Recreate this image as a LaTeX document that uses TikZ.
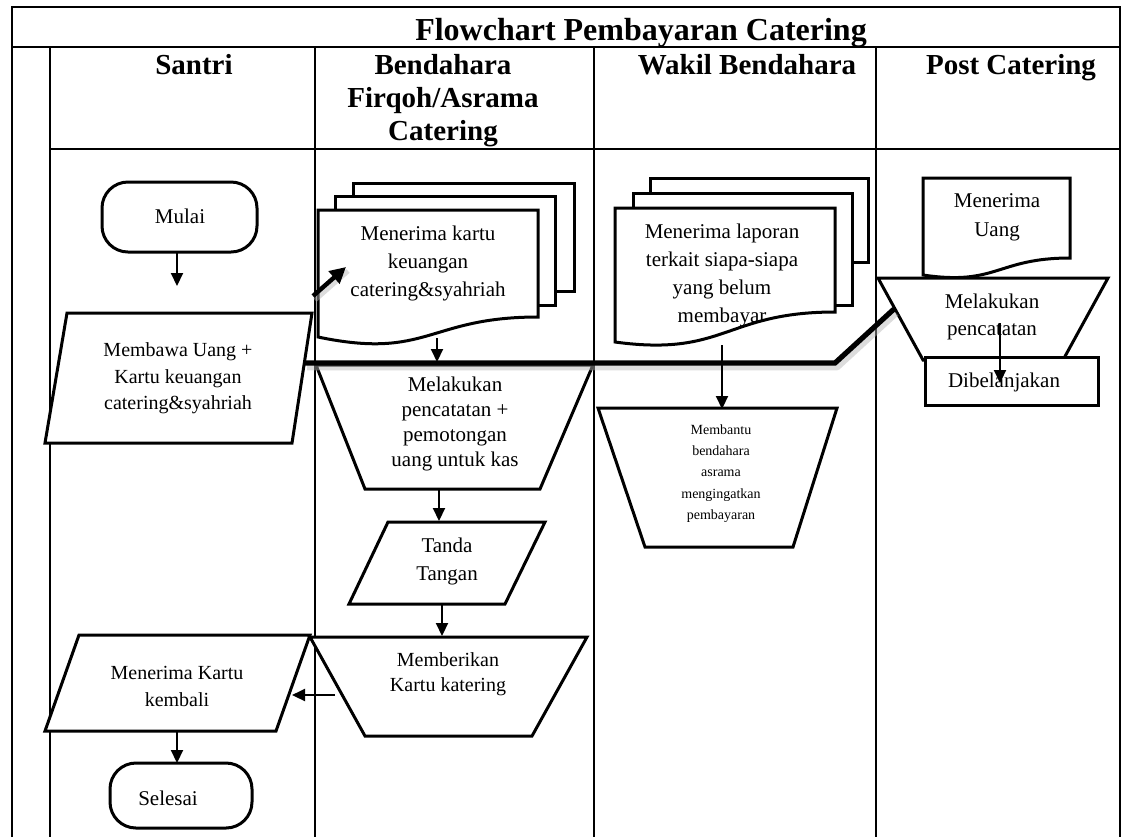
\documentclass[tikz,border=0pt]{standalone}
\usepackage{fontspec}
\setmainfont{Liberation Serif}
\usetikzlibrary{arrows.meta}
\begin{document}
\begin{tikzpicture}[x=0.5pt,y=-0.5pt,
  frame/.style={line width=1.1pt},
  box/.style={line width=1.5pt, fill=white, line join=miter},
  term/.style={draw, line width=1.5pt, fill=white, rounded corners=13pt, inner sep=0pt},
  arr/.style={line width=1pt, -{Triangle[length=6.5pt,width=6pt]}},
  bigarr/.style={line width=2.2pt, -{Triangle[length=8pt,width=8pt]}},
  thick line/.style={line width=2.6pt, line join=miter},
  shade/.style={line width=3.4pt, draw=black!30, opacity=0.45, line join=round},
  txt/.style={align=center, inner sep=0pt, font=\fontsize{10.5}{14}\selectfont},
  hdr/.style={align=center, inner sep=0pt, anchor=base, font=\bfseries\fontsize{14.5}{16.5}\selectfont}]

\useasboundingbox (0,0) rectangle (1122,837);

% ---------- swimlane table ----------
\draw[frame] (12,837) -- (12,7) -- (1120,7) -- (1120,837);
\draw[frame] (12,47) -- (1120,47);
\draw[frame] (50,47) -- (50,837);
\draw[frame] (315,47) -- (315,837);
\draw[frame] (594,47) -- (594,837);
\draw[frame] (876,47) -- (876,837);
\draw[frame] (50,149) -- (1120,149);

\node[anchor=base, inner sep=0pt, font=\bfseries\fontsize{16}{18}\selectfont] (title) at (641,40) {Flowchart Pembayaran Catering};
\node[hdr] (hSantri) at (194,74) {Santri};
\node[hdr, anchor=north] (hBendahara) at (443,54) {Bendahara\\Firqoh/Asrama\\Catering};
\node[hdr] (hWakil) at (747,74) {Wakil Bendahara};
\node[hdr] (hPost) at (1011,74) {Post Catering};

% ---------- Santri ----------
\node[term, minimum width=77.5pt, minimum height=35pt] (mulai) at (179.5,217) {};
\node[txt] (mulaiT) at (180,216) {Mulai};
\coordinate (mulaiOut) at (177,252);
\coordinate (membawaIn) at (177,286);

\draw[box] (67,313) -- (312,313) -- (292,443) -- (45,443) -- cycle;
\node[txt, font=\fontsize{10}{13.25}\selectfont] (membawa) at (178,378.5) {Membawa Uang +\\Kartu keuangan\\catering\&syahriah};

\draw[box] (79,635) -- (310,635) -- (276,731) -- (45,731) -- cycle;
\node[txt, font=\fontsize{10}{13.5}\selectfont] (terimaKartu) at (177,686.5) {Menerima Kartu\\kembali};
\coordinate (terimaOut) at (177,731);
\coordinate (selesaiIn) at (177,763);

\node[term, minimum width=71pt, minimum height=32.5pt] (selesai) at (181,795.5) {};
\node[txt] (selesaiT) at (168,798) {Selesai};

% ---------- Bendahara Firqoh/Asrama ----------
\draw[box] (353,183) rectangle (574,291);
\draw[box] (335,196) rectangle (555,305);
\draw[box] (318,210) -- (538,210) -- (538,317)
  .. controls (428,317) and (428,360) .. (318,337) -- cycle;
\node[txt] (terimaDoc) at (428,263) {Menerima kartu\\keuangan\\catering\&syahriah};
\coordinate (docOut) at (437,338);
\coordinate (docIn) at (437,362);

\draw[box] (316,365) -- (593,365) -- (540,489) -- (365,489) -- cycle;
\node[txt, font=\fontsize{10.5}{12.5}\selectfont] (catat) at (455,423.5) {Melakukan\\pencatatan +\\pemotongan\\uang untuk kas};
\coordinate (catatOut) at (439,489);
\coordinate (tandaIn) at (439,521);

\draw[box] (388,522) -- (545,522) -- (505,604) -- (349,604) -- cycle;
\node[txt] (tanda) at (447,561) {Tanda\\Tangan};
\coordinate (tandaOut) at (442,604);
\coordinate (beriIn) at (442,636);

\draw[box] (310,637) -- (587,637) -- (532,736) -- (365,736) -- cycle;
\node[txt, font=\fontsize{10}{12.5}\selectfont] (beri) at (448,674.5) {Memberikan\\Kartu katering};
\coordinate (beriOut) at (335,695);
\coordinate (kartuIn) at (292,695);

% ---------- Wakil Bendahara ----------
\draw[box] (650,178) rectangle (868,262);
\draw[box] (633,193) rectangle (852,305);
\draw[box] (615,208) -- (835,208) -- (835,312)
  .. controls (725,312) and (725,357) .. (615,342) -- cycle;
\node[txt] (laporan) at (722,275) {Menerima laporan\\terkait siapa-siapa\\yang belum\\membayar};
\coordinate (laporanOut) at (722,345);
\coordinate (bantuIn) at (722,409);

\draw[box] (598,408) -- (837,408) -- (793,547) -- (645,547) -- cycle;
\node[txt, font=\fontsize{7}{10.6}\selectfont] (bantu) at (721,473.5) {Membantu\\bendahara\\asrama\\mengingatkan\\pembayaran};

% ---------- Post Catering ----------
\draw[box] (923,178) -- (1070,178) -- (1070,258)
  .. controls (997,258) and (997,286) .. (923,275) -- cycle;
\node[txt, font=\fontsize{10.5}{14.5}\selectfont] (uang) at (997,217.5) {Menerima\\Uang};

\draw[box] (878,278) -- (1108,278) -- (1063,360) -- (923,360) -- cycle;
\node[txt, font=\fontsize{10.5}{13.5}\selectfont] (catatPost) at (992,316.5) {Melakukan\\pencatatan};

\draw[box] (925,357) rectangle (1098,405);
\node[txt] (belanja) at (1004,382) {Dibelanjakan};
\coordinate (catatPostOut) at (1000,323);
\coordinate (belanjaIn) at (1000,383);

% ---------- connectors ----------
\coordinate (kirimOut) at (305,363);
\coordinate (kirimBend) at (835,363);
\coordinate (kirimIn) at (894,309);
\coordinate (kartuOut) at (313,296);
\coordinate (kartuTip) at (346,267);

\draw[shade] ([shift={(2,4)}]kirimOut) -- ([shift={(2,4)}]kirimBend) -- ([shift={(2,4)}]kirimIn);
\draw[thick line] (kirimOut) -- (kirimBend) -- (kirimIn);
\draw[shade, line width=2.4pt] ([shift={(2,4)}]kartuOut) -- ([shift={(2,4)}]kartuTip);
\draw[bigarr] (kartuOut) -- (kartuTip);

\draw[arr] (mulaiOut) -- (membawaIn);
\draw[arr] (docOut) -- (docIn);
\draw[arr] (catatOut) -- (tandaIn);
\draw[arr] (tandaOut) -- (beriIn);
\draw[arr] (beriOut) -- (kartuIn);
\draw[arr] (terimaOut) -- (selesaiIn);
\draw[arr] (laporanOut) -- (bantuIn);
\draw[arr] (catatPostOut) -- (belanjaIn);
\end{tikzpicture}
\end{document}
